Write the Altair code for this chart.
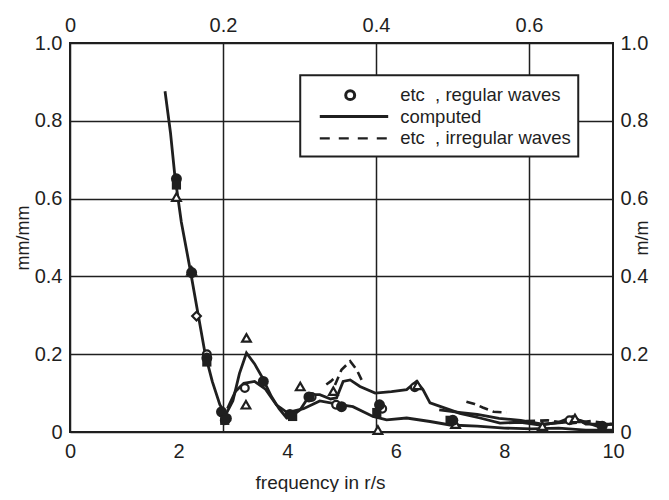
import altair as alt
import pandas as pd

INK = "#1f1f1f"
FONT = "Liberation Sans"

# ---- computed (solid) curves ----
comp_a_x = [1.75, 1.85, 1.93, 2.05, 2.21, 2.35, 2.49, 2.62, 2.76, 2.87, 3.0, 3.12, 3.25, 3.4, 3.53,
            3.71, 3.85, 3.99, 4.12, 4.24, 4.42, 4.6, 4.8, 4.91, 5.03, 5.16, 5.34, 5.62, 5.92, 6.2,
            6.38, 6.5, 6.63, 7.0, 7.18, 7.55, 7.92, 8.3, 8.66, 9.0, 9.26, 9.5, 10.0]
comp_a_y = [0.876, 0.77, 0.66, 0.54, 0.42, 0.31, 0.20, 0.13, 0.07, 0.045, 0.08, 0.15, 0.203, 0.175, 0.143,
            0.091, 0.06, 0.036, 0.045, 0.057, 0.096, 0.096, 0.085, 0.088, 0.13, 0.134, 0.117, 0.10, 0.104, 0.109,
            0.13, 0.109, 0.075, 0.057, 0.048, 0.036, 0.023, 0.025, 0.018, 0.025, 0.04, 0.02, 0.02]

comp_b_x = [2.9, 3.05, 3.2, 3.4, 3.6, 3.8, 4.0, 4.3, 4.6, 5.0, 5.21, 5.58, 5.83, 6.2, 6.63, 7.0,
            7.5, 8.0, 8.5, 9.0, 9.5, 10.0]
comp_b_y = [0.06, 0.105, 0.125, 0.13, 0.11, 0.07, 0.05, 0.06, 0.08, 0.07, 0.065, 0.04, 0.031, 0.036, 0.027, 0.018,
            0.015, 0.01, 0.008, 0.01, 0.005, 0.005]

comp_c_x = [6.8, 7.2, 7.5, 7.9, 8.3, 8.7, 9.1, 9.4, 9.7, 10.0]
comp_c_y = [0.057, 0.05, 0.045, 0.035, 0.03, 0.02, 0.025, 0.03, 0.015, 0.02]

# ---- irregular waves (dashed) segments ----
dash_a_x = [4.88, 5.0, 5.16, 5.28, 5.37]
dash_a_y = [0.121, 0.16, 0.182, 0.16, 0.134]
dash_b_x = [4.72, 4.8, 4.88]
dash_b_y = [0.122, 0.13, 0.14]
dash_c_x = [7.3, 7.45, 7.6, 7.8, 8.04]
dash_c_y = [0.078, 0.072, 0.063, 0.052, 0.05]
dash_d_x = [8.4, 8.8, 9.2, 9.6, 10.0]
dash_d_y = [0.028, 0.03, 0.022, 0.028, 0.02]

# ---- measured points ----
circ_x = [2.52, 3.22, 4.45, 4.9, 5.75, 6.35, 9.2, 2.85]
circ_y = [0.2, 0.113, 0.09, 0.07, 0.06, 0.115, 0.03, 0.03]
tri_x = [1.96, 2.24, 3.25, 3.24, 4.24, 5.67, 6.4, 4.85, 9.3, 7.1, 8.7]
tri_y = [0.604, 0.414, 0.242, 0.07, 0.117, 0.005, 0.12, 0.105, 0.035, 0.02, 0.015]
fcirc_x = [1.96, 2.24, 2.52, 2.79, 2.88, 3.56, 4.05, 4.4, 5.0, 5.7, 7.05, 9.8]
fcirc_y = [0.651, 0.41, 0.19, 0.052, 0.035, 0.13, 0.045, 0.09, 0.065, 0.07, 0.03, 0.015]
fsq_x = [1.96, 2.52, 2.85, 5.65, 7.0, 4.1]
fsq_y = [0.635, 0.18, 0.03, 0.05, 0.03, 0.04]
dia_x = [2.33]
dia_y = [0.298]

# ---- axes ----
x_ticks = [0, 2, 4, 6, 8, 10]
y_ticks = [0, 0.2, 0.4, 0.6, 0.8, 1.0]
top_ticks = [0, 0.2, 0.4, 0.6]
top_max = 0.7098

# ---- legend (data coordinates) ----
leg_box_x = [4.24, 9.36]
leg_box_y = [0.708, 0.917]
leg_rows_y = [0.866, 0.811, 0.755]
leg_sym_x = [4.6, 5.16, 5.86]
leg_text_x = 6.08
leg_texts = ["etc\u00a0\u00a0, regular waves", "computed", "etc\u00a0\u00a0, irregular waves"]

xs = alt.Scale(domain=[0, 10], nice=False, zero=False)
ys = alt.Scale(domain=[0, 1], nice=False)

LBL = 20
x_axis = alt.Axis(values=x_ticks, format="d", grid=False, domain=False, ticks=False,
                  labelFlush=False, labelPadding=9, labelFontSize=LBL, labelFont=FONT,
                  labelColor=INK, title="frequency in r/s", titleFont=FONT, titleFontSize=19,
                  titleFontWeight="normal", titleColor=INK, titlePadding=12, titleX=250)
y_axis = alt.Axis(values=y_ticks, grid=True, gridColor=INK, gridWidth=1.5, domain=False,
                  ticks=False, labelFlush=False, labelPadding=8, labelFontSize=LBL, labelFont=FONT,
                  labelColor=INK, labelExpr="datum.value == 0 ? '0' : format(datum.value, '.1f')",
                  title="mm/mm", titleFont=FONT, titleFontSize=18, titleFontWeight="normal",
                  titleColor=INK, titlePadding=2)


def line_df(pairs):
    rows = []
    for name, xv, yv in pairs:
        for i, (a, b) in enumerate(zip(xv, yv)):
            rows.append({"x": a, "y": b, "s": name, "o": i})
    return pd.DataFrame(rows)


solid_df = line_df([("a", comp_a_x, comp_a_y), ("b", comp_b_x, comp_b_y), ("c", comp_c_x, comp_c_y)])
dash_df = line_df([("a", dash_a_x, dash_a_y), ("b", dash_b_x, dash_b_y),
                   ("c", dash_c_x, dash_c_y), ("d", dash_d_x, dash_d_y)])

solid = alt.Chart(solid_df).mark_line(color=INK, strokeWidth=2.8).encode(
    x=alt.X("x:Q", scale=xs, axis=x_axis),
    y=alt.Y("y:Q", scale=ys, axis=y_axis),
    detail="s:N", order="o:Q")

dashed = alt.Chart(dash_df).mark_line(color=INK, strokeWidth=2.6, strokeDash=[9, 5]).encode(
    x=alt.X("x:Q", scale=xs), y=alt.Y("y:Q", scale=ys), detail="s:N", order="o:Q")


def pts(xv, yv, shape, filled, size):
    df = pd.DataFrame({"x": xv, "y": yv})
    return alt.Chart(df).mark_point(shape=shape, filled=filled, size=size, color=INK,
                                    strokeWidth=2.2, fill="white" if not filled else INK,
                                    opacity=1).encode(
        x=alt.X("x:Q", scale=xs), y=alt.Y("y:Q", scale=ys))


p_circ = pts(circ_x, circ_y, "circle", False, 60)
p_tri = pts(tri_x, tri_y, "triangle-up", False, 75)
p_fc = pts(fcirc_x, fcirc_y, "circle", True, 120)
p_fs = pts(fsq_x, fsq_y, "square", True, 85)
p_dia = pts(dia_x, dia_y, "diamond", False, 75)

box_df = pd.DataFrame({"x": [leg_box_x[0]], "x2": [leg_box_x[1]],
                       "y": [leg_box_y[0]], "y2": [leg_box_y[1]]})
leg_box = alt.Chart(box_df).mark_rect(fill="white", stroke=INK, strokeWidth=2).encode(
    x=alt.X("x:Q", scale=xs), x2="x2", y=alt.Y("y:Q", scale=ys), y2="y2")

leg_circ = alt.Chart(pd.DataFrame({"x": [leg_sym_x[1]], "y": [leg_rows_y[0]]})).mark_point(
    shape="circle", filled=False, size=80, color=INK, strokeWidth=3, opacity=1).encode(
    x=alt.X("x:Q", scale=xs), y=alt.Y("y:Q", scale=ys))

leg_solid = alt.Chart(pd.DataFrame({"x": [leg_sym_x[0], leg_sym_x[2]],
                                    "y": [leg_rows_y[1]] * 2})).mark_line(
    color=INK, strokeWidth=2.8).encode(x=alt.X("x:Q", scale=xs), y=alt.Y("y:Q", scale=ys))

leg_dash = alt.Chart(pd.DataFrame({"x": [leg_sym_x[0], leg_sym_x[2]],
                                   "y": [leg_rows_y[2]] * 2})).mark_line(
    color=INK, strokeWidth=2.2, strokeDash=[10, 9]).encode(
    x=alt.X("x:Q", scale=xs), y=alt.Y("y:Q", scale=ys))

leg_text = alt.Chart(pd.DataFrame({"x": [leg_text_x] * 3, "y": leg_rows_y, "t": leg_texts})).mark_text(
    align="left", baseline="middle", font=FONT, fontSize=18.5, color=INK).encode(
    x=alt.X("x:Q", scale=xs), y=alt.Y("y:Q", scale=ys), text="t:N")

main = alt.layer(solid, dashed, p_circ, p_tri, p_fc, p_fs, p_dia,
                 leg_box, leg_circ, leg_solid, leg_dash, leg_text)

top_df = pd.DataFrame({"t": top_ticks, "y": [0, 0.2, 0.4, 0.6]})
top = alt.Chart(top_df).mark_point(opacity=0).encode(
    x=alt.X("t:Q", scale=alt.Scale(domain=[0, top_max], nice=False, zero=False),
            axis=alt.Axis(orient="top", values=top_ticks, grid=True, gridColor=INK, gridWidth=1.5,
                          domain=False, ticks=False, labelFlush=False, labelPadding=8,
                          labelFontSize=LBL, labelFont=FONT, labelColor=INK,
                          labelExpr="datum.value == 0 ? '0' : format(datum.value, '.1f')",
                          title=None)),
    y=alt.Y("y:Q", scale=alt.Scale(domain=[0, 1], nice=False),
            axis=alt.Axis(orient="right", values=y_ticks, grid=False, domain=False, ticks=False,
                          labelFlush=False, labelPadding=7, labelFontSize=LBL, labelFont=FONT,
                          labelColor=INK,
                          labelExpr="datum.value == 0 ? '0' : format(datum.value, '.1f')",
                          title="m/m", titleAngle=270, titleFont=FONT, titleFontSize=18,
                          titleFontWeight="normal", titleColor=INK, titlePadding=4)))

chart = alt.layer(top, main).resolve_scale(x="independent", y="independent").properties(
    width=543, height=389,
    autosize=alt.AutoSizeParams(type="none"),
    padding={"left": 62, "top": 35, "right": 48, "bottom": 60},
    background="white",
).configure_view(stroke=INK, strokeWidth=2)

chart.save("out.html", embed_options={"renderer": "svg", "actions": False})
